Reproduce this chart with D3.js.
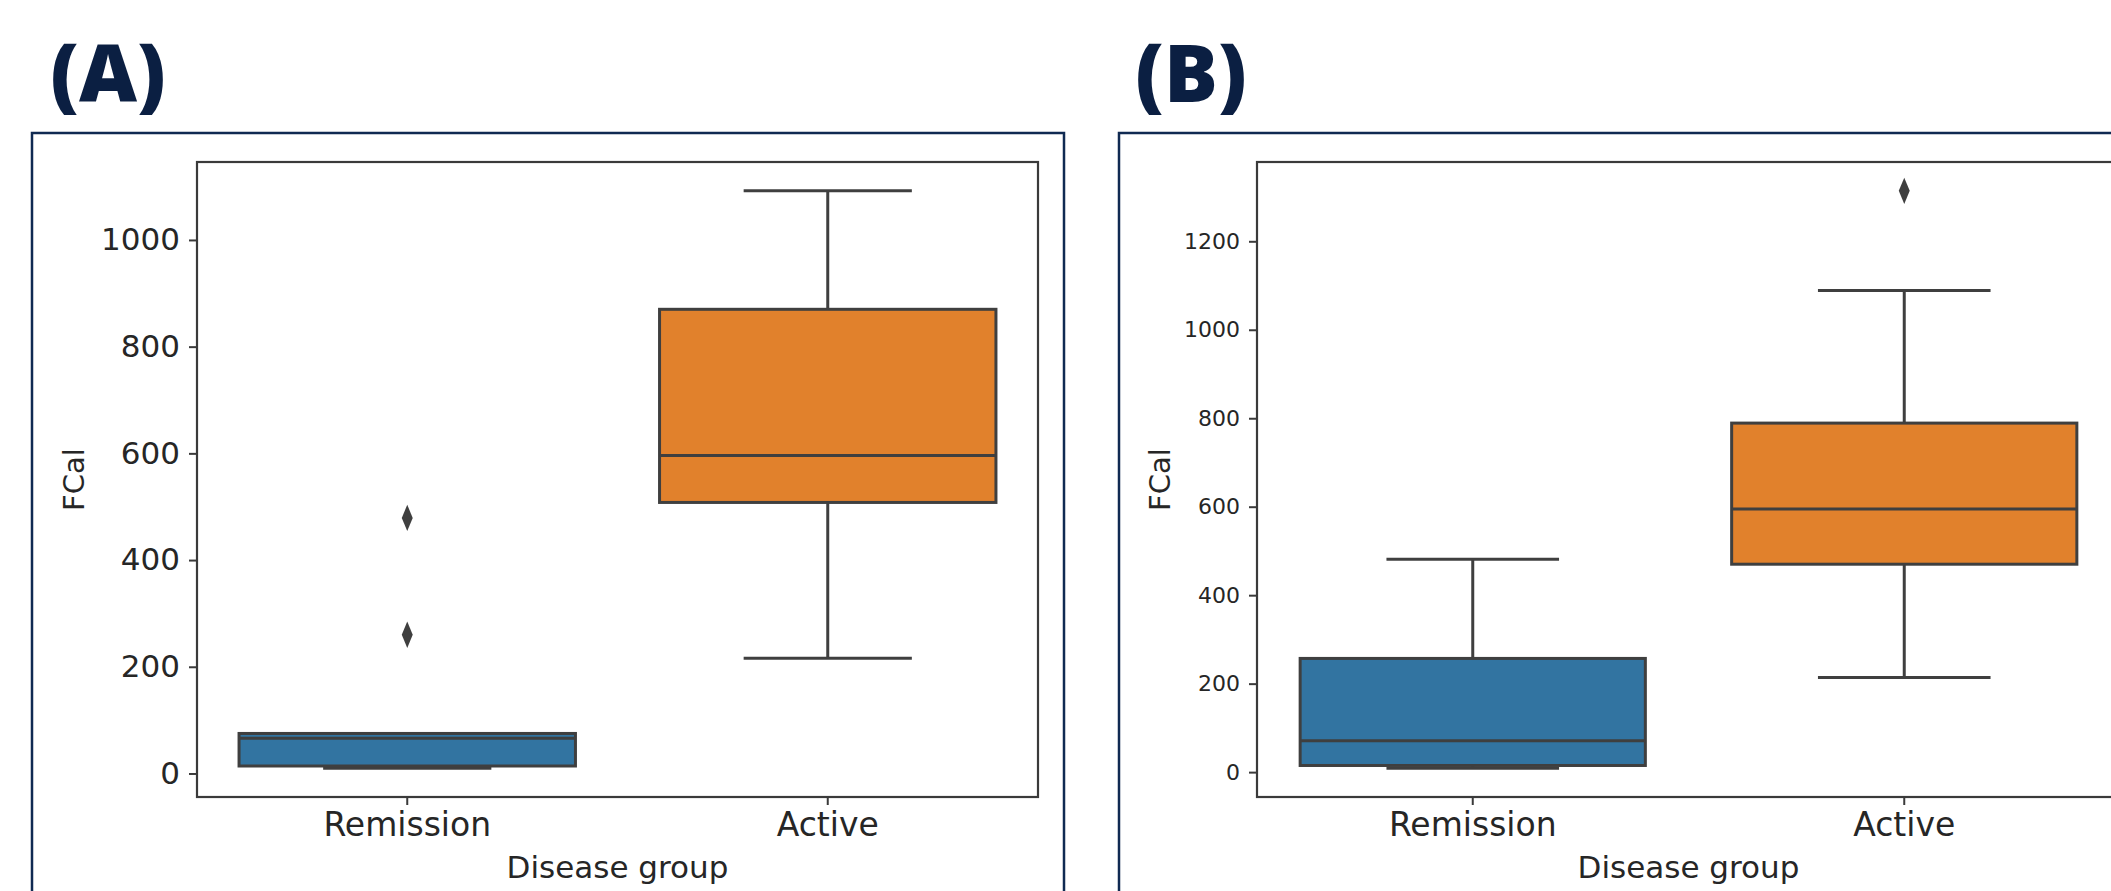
<!DOCTYPE html>
<html lang="en">
<head>
<meta charset="UTF-8">
<title>FCal by disease group</title>
<script src="https://d3js.org/d3.v7.min.js"></script>
<style>
  body { margin: 0; background: #fff; }
  svg text { font-family: "DejaVu Sans", sans-serif; fill: #262626; }
  .tag { font-family: "Open Sans", sans-serif; font-weight: 800; fill: #0b1f42; }
</style>
</head>
<body>
<svg id="chart" width="2111" height="891"></svg>
<script>
const groups = ["Remission", "Active"];
const boxColors = ["#3274a1", "#e1812c"];

// panel A
const whiskerLowA = [10, 216];
const q1A = [14, 508];
const medianA = [66, 596];
const q3A = [75, 870];
const whiskerHighA = [75, 1092];
const outliersA = [[260, 479], []];
const ticksA = [0, 200, 400, 600, 800, 1000];

// panel B
const whiskerLowB = [9, 214];
const q1B = [15, 470];
const medianB = [71, 595];
const q3B = [257, 789];
const whiskerHighB = [481, 1089];
const outliersB = [[], [1314]];
const ticksB = [0, 200, 400, 600, 800, 1000, 1200];

const svg = d3.select("#chart");
const edge = "#3f3f3f";

function drawPanel(p) {
    // outer frame
    svg.append("rect")
        .attr("x", p.frame[0]).attr("y", p.frame[1])
        .attr("width", p.frame[2] - p.frame[0]).attr("height", 900)
        .attr("fill", "none").attr("stroke", "#102a52").attr("stroke-width", 2.5);

    svg.append("text").attr("class", "tag")
        .attr("x", p.tagX).attr("y", 102)
        .attr("text-anchor", "middle")
        .attr("font-size", 80)
        .text(p.tag);

    const rows = groups.map((g, i) => ({
        g, lo: p.lo[i], q1: p.q1[i], med: p.med[i], q3: p.q3[i], hi: p.hi[i],
        out: p.out[i], color: boxColors[i]
    }));

    // matplotlib style 5% margin around the data
    const all = rows.flatMap(r => [r.lo, r.hi, ...r.out]);
    const mn = d3.min(all), mx = d3.max(all), pad = (mx - mn) * 0.05;

    const x = d3.scaleBand().domain(groups).range([p.left, p.right]).padding(0);
    const y = d3.scaleLinear().domain([mn - pad, mx + pad]).range([p.bottom, p.top]);
    const bw = x.bandwidth() * 0.8;

    const g = svg.append("g");
    rows.forEach(r => {
        const cx = x(r.g) + x.bandwidth() / 2;
        // whiskers
        [[r.q3, r.hi], [r.q1, r.lo]].forEach(([a, b]) => {
            g.append("line").attr("x1", cx).attr("x2", cx)
                .attr("y1", y(a)).attr("y2", y(b))
                .attr("stroke", edge).attr("stroke-width", 3);
            g.append("line").attr("x1", cx - bw / 4).attr("x2", cx + bw / 4)
                .attr("y1", y(b)).attr("y2", y(b))
                .attr("stroke", edge).attr("stroke-width", 3);
        });
        g.append("rect")
            .attr("x", cx - bw / 2).attr("width", bw)
            .attr("y", y(r.q3)).attr("height", y(r.q1) - y(r.q3))
            .attr("fill", r.color).attr("stroke", edge).attr("stroke-width", 3);
        g.append("line").attr("x1", cx - bw / 2).attr("x2", cx + bw / 2)
            .attr("y1", y(r.med)).attr("y2", y(r.med))
            .attr("stroke", edge).attr("stroke-width", 3);
        // thin diamond fliers
        g.selectAll(null).data(r.out).enter().append("path")
            .attr("d", d3.symbol(d3.symbolDiamond, 200))
            .attr("transform", d => `translate(${cx},${y(d)}) scale(0.72,1)`)
            .attr("fill", edge);
    });

    // plot spines
    svg.append("rect")
        .attr("x", p.left).attr("y", p.top)
        .attr("width", p.right - p.left).attr("height", p.bottom - p.top)
        .attr("fill", "none").attr("stroke", "#3a3a3a").attr("stroke-width", 2.2);

    const ya = svg.append("g").attr("transform", `translate(${p.left},0)`)
        .call(d3.axisLeft(y).tickValues(p.ticks).tickSize(8).tickPadding(9).tickFormat(d3.format("d")));
    ya.select(".domain").remove();
    ya.selectAll("line").attr("stroke", "#3a3a3a").attr("stroke-width", 2);
    ya.selectAll("text").attr("font-size", p.yFont).attr("font-family", null).attr("fill", null);

    const xa = svg.append("g").attr("transform", `translate(0,${p.bottom})`)
        .call(d3.axisBottom(x).tickSize(8).tickPadding(8));
    xa.select(".domain").remove();
    xa.selectAll("line").attr("stroke", "#3a3a3a").attr("stroke-width", 2);
    xa.selectAll("text").attr("font-size", 33).attr("font-family", null).attr("fill", null);

    svg.append("text")
        .attr("x", (p.left + p.right) / 2).attr("y", 878)
        .attr("text-anchor", "middle").attr("font-size", 31)
        .text("Disease group");

    svg.append("text")
        .attr("transform", `translate(${p.yLabelX},${(p.top + p.bottom) / 2}) rotate(-90)`)
        .attr("text-anchor", "middle").attr("font-size", 29)
        .text("FCal");
}

drawPanel({
    frame: [32, 133, 1064], tag: "(A)", tagX: 108,
    left: 197, right: 1038, top: 162, bottom: 797,
    lo: whiskerLowA, q1: q1A, med: medianA, q3: q3A, hi: whiskerHighA, out: outliersA,
    ticks: ticksA, yFont: 31, yLabelX: 84
});

drawPanel({
    frame: [1119, 133, 2150], tag: "(B)", tagX: 1191,
    left: 1257, right: 2120, top: 162, bottom: 797,
    lo: whiskerLowB, q1: q1B, med: medianB, q3: q3B, hi: whiskerHighB, out: outliersB,
    ticks: ticksB, yFont: 22, yLabelX: 1170
});
</script>
</body>
</html>
